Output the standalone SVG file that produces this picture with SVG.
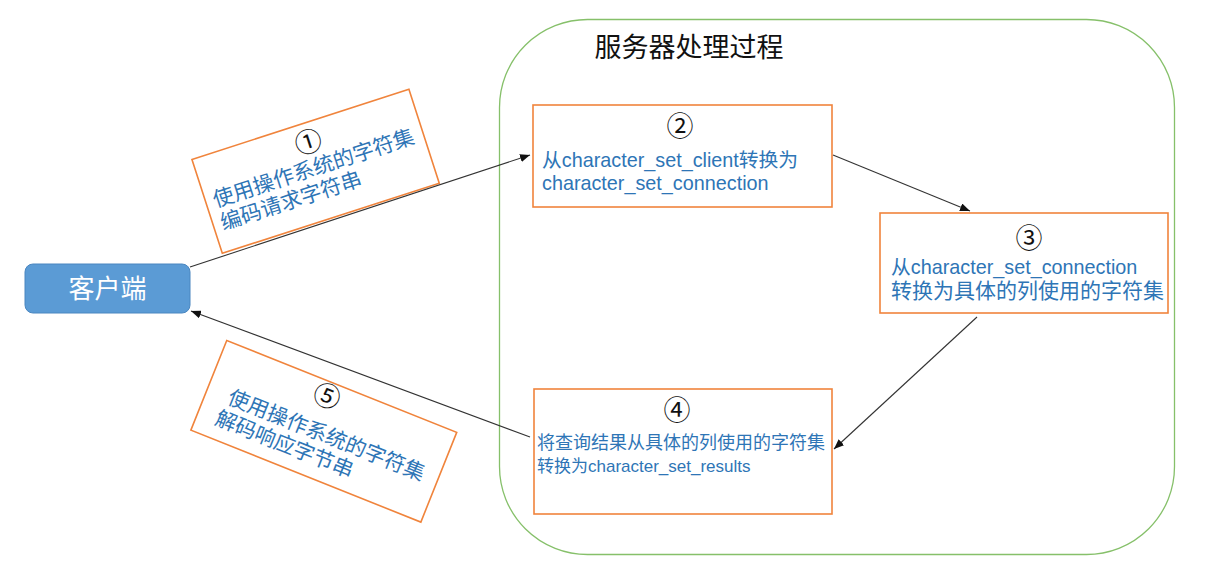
<svg xmlns="http://www.w3.org/2000/svg" width="1217" height="586" viewBox="0 0 1217 586">
<style>
.box{fill:#fff;stroke:#f0843c;stroke-width:1.6}
.t{font-family:"Liberation Sans","Noto Sans CJK SC",sans-serif;fill:#2e75b6}
.num{font-family:"Noto Sans CJK SC",sans-serif;fill:#111;font-size:27px;text-anchor:middle}
.conn{stroke:#333;stroke-width:1.1;fill:none}
</style>
<defs>
<marker id="ah" markerUnits="userSpaceOnUse" markerWidth="10" markerHeight="8" refX="10" refY="4" orient="auto">
<path d="M0,0 L10,4 L0,8 z" fill="#111"/>
</marker>
</defs>
<rect width="1217" height="586" fill="#fff"/>
<g id="server">
<rect x="499.5" y="19.5" width="675" height="535" rx="88" ry="88" fill="none" stroke="#86c06a" stroke-width="1.3"/>
<text x="689" y="57" font-family="'Noto Sans CJK SC',sans-serif" font-size="27" fill="#111" text-anchor="middle">服务器处理过程</text>
</g>
<g id="client">
<rect x="25" y="264" width="165" height="49" rx="8" fill="#5b9bd5" stroke="#4a86c0" stroke-width="1"/>
<text x="107.5" y="298" font-family="'Noto Sans CJK SC',sans-serif" font-size="26" fill="#fff" text-anchor="middle">客户端</text>
</g>
<g id="step1" transform="translate(315.5,171) rotate(-17.9)">
<rect class="box" x="-114" y="-49" width="228" height="98.7"/>
<text class="num" x="2" y="-20">①</text>
<text class="t" x="-106" y="4" font-size="21">使用操作系统的字符集</text>
<text class="t" x="-106" y="28" font-size="21">编码请求字符串</text>
</g>
<g id="step5" transform="translate(323.75,431.25) rotate(21.8)">
<rect class="box" x="-123.8" y="-48.3" width="247.7" height="96.6"/>
<text class="num" x="-10" y="-24">⑤</text>
<text class="t" x="-101" y="10" font-size="21">使用操作系统的字符集</text>
<text class="t" x="-105" y="34" font-size="21">解码响应字节串</text>
</g>
<g id="step2">
<rect class="box" x="533" y="105" width="299" height="102" stroke-width="2"/>
<text class="num" x="680" y="136">②</text>
<text class="t" x="542" y="167" font-size="19.8">从character_set_client转换为</text>
<text class="t" x="542" y="190" font-size="19.8">character_set_connection</text>
</g>
<g id="step3">
<rect class="box" x="880" y="213" width="288" height="100"/>
<text class="num" x="1029" y="248">③</text>
<text class="t" x="891" y="274" font-size="19.8">从character_set_connection</text>
<text class="t" x="891" y="298" font-size="21">转换为具体的列使用的字符集</text>
</g>
<g id="step4">
<rect class="box" x="534" y="389" width="298" height="125"/>
<text class="num" x="677" y="420">④</text>
<text class="t" x="537" y="449" font-size="18">将查询结果从具体的列使用的字符集</text>
<text class="t" x="537" y="472" font-size="17">转换为character_set_results</text>
</g>
<g id="connectors">
<line class="conn" x1="190" y1="267" x2="530" y2="155" stroke="#555" marker-end="url(#ah)"/>
<line class="conn" x1="833" y1="155" x2="970" y2="211" marker-end="url(#ah)"/>
<line class="conn" x1="977" y1="317" x2="834" y2="449" marker-end="url(#ah)"/>
<line class="conn" x1="530" y1="437" x2="191" y2="311" marker-end="url(#ah)"/>
</g>
</svg>
